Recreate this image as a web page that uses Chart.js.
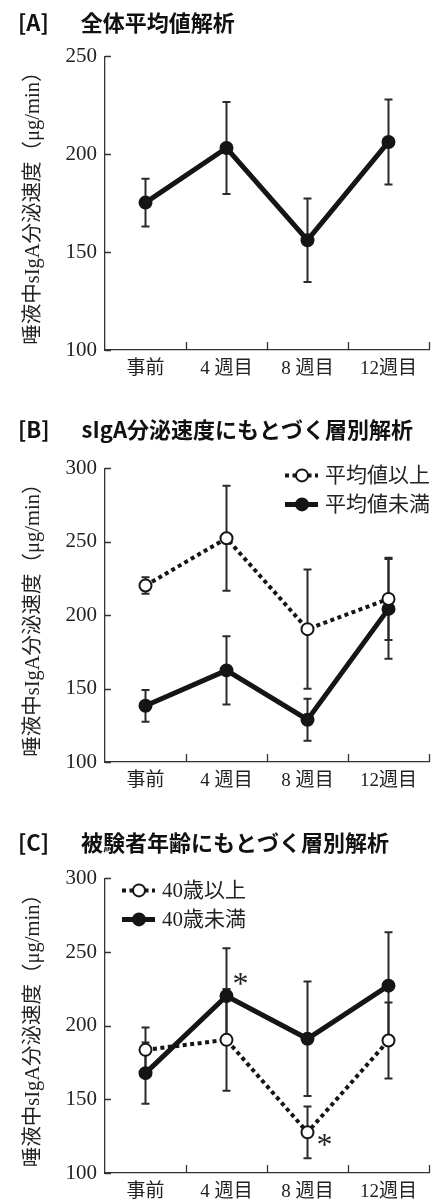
<!DOCTYPE html>
<html>
<head>
<meta charset="utf-8">
<script src="https://cdn.jsdelivr.net/npm/chart.js@4/dist/chart.umd.min.js"></script>
<style>
  html, body { margin: 0; padding: 0; background: #fff; }
  .panel { position: relative; width: 444px; }
</style>
</head>
<body>
<div class="panel" style="height:390px"><canvas id="chartA"></canvas></div>
<div class="panel" style="height:410px"><canvas id="chartB"></canvas></div>
<div class="panel" style="height:400px"><canvas id="chartC"></canvas></div>
<script>
// categories and tick labels
const categories = ['事前', '4 週目', '8 週目', '12週目'];
const yTitle = '唾液中sIgA分泌速度（μg/min）';

// [A] overall mean
const meanAll = [175.3, 203.2, 156.1, 206.3];
const sdAll = [12.2, 23.5, 21.3, 21.7];

// [B] split by sIgA secretion rate
const meanHigh = [220.2, 252.4, 190.5, 211.1];
const sdHigh = [5.6, 35.8, 40.6, 28.0];
const meanLow = [138.3, 162.4, 128.8, 204.3];
const sdLow = [10.8, 23.2, 14.3, 34.0];

// [C] split by subject age
const meanOver40 = [183.6, 190.4, 127.6, 190.0];
const sdOver40 = [15.2, 34.6, 17.6, 25.8];
const meanUnder40 = [167.8, 220.2, 191.1, 227.2];
const sdUnder40 = [20.8, 32.3, 38.9, 36.2];
// significance marks in [C]: [dataset index, category index]
const sigC = [[1, 1], [0, 2]];

const serif = '"Liberation Serif", "Noto Sans CJK JP", serif';
const ink = '#151515';

// error bars, drawn from the dataset's sd array
const errorBars = {
  id: 'errorBars',
  beforeDatasetsDraw(chart) {
    const { ctx, scales: { x, y } } = chart;
    ctx.save();
    ctx.strokeStyle = '#2a2a2a';
    ctx.lineWidth = 2;
    chart.data.datasets.forEach(ds => {
      ds.sd.forEach((e, i) => {
        const px = x.getPixelForValue(i);
        const t = y.getPixelForValue(ds.data[i] + e);
        const b = y.getPixelForValue(ds.data[i] - e);
        ctx.beginPath();
        ctx.moveTo(px, t); ctx.lineTo(px, b);
        ctx.moveTo(px - 4, t); ctx.lineTo(px + 4, t);
        ctx.moveTo(px - 4, b); ctx.lineTo(px + 4, b);
        ctx.stroke();
      });
    });
    ctx.restore();
  }
};

// inward tick marks on both axes
const innerTicks = {
  id: 'innerTicks',
  afterDraw(chart) {
    const { ctx, chartArea: a, scales: { x, y } } = chart;
    ctx.save();
    ctx.strokeStyle = '#333';
    ctx.lineWidth = 1.3;
    ctx.beginPath();
    y.ticks.forEach(t => {
      const py = Math.round(y.getPixelForValue(t.value)) + 0.5;
      ctx.moveTo(a.left, py); ctx.lineTo(a.left + 6, py);
    });
    const n = x.ticks.length;
    for (let i = 1; i <= n; i++) {
      const px = i < n ? (x.getPixelForValue(i - 1) + x.getPixelForValue(i)) / 2 : a.right;
      ctx.moveTo(Math.round(px) + 0.5, a.bottom); ctx.lineTo(Math.round(px) + 0.5, a.bottom - 8);
    }
    ctx.stroke();
    ctx.restore();
  }
};

// legend with line + marker samples
const lineLegend = {
  id: 'lineLegend',
  afterDraw(chart, args, opts) {
    if (!opts.show) return;
    const { ctx, chartArea: a } = chart;
    ctx.save();
    chart.data.datasets.forEach((ds, i) => {
      const x0 = a.left + opts.dx;
      const yy = a.top + opts.dy + i * 29;
      ctx.strokeStyle = ink;
      ctx.lineWidth = ds.borderWidth;
      ctx.setLineDash(ds.borderDash || []);
      ctx.beginPath();
      ctx.moveTo(x0, yy); ctx.lineTo(x0 + 33, yy);
      ctx.stroke();
      ctx.setLineDash([]);
      ctx.beginPath();
      ctx.arc(x0 + 17, yy, 6, 0, Math.PI * 2);
      ctx.fillStyle = ds.pointBackgroundColor;
      ctx.fill();
      ctx.lineWidth = 2;
      ctx.stroke();
      ctx.fillStyle = '#222';
      ctx.font = '21px ' + serif;
      ctx.textBaseline = 'middle';
      ctx.fillText(ds.label, x0 + 40, yy + 1);
    });
    ctx.restore();
  }
};

// significance asterisks
const asterisks = {
  id: 'asterisks',
  afterDraw(chart, args, opts) {
    if (!opts.marks) return;
    const { ctx, scales: { x, y } } = chart;
    ctx.save();
    ctx.fillStyle = '#222';
    ctx.font = '32px ' + serif;
    ctx.textAlign = 'center';
    ctx.textBaseline = 'middle';
    opts.marks.forEach(([d, i], k) => {
      const px = x.getPixelForValue(i) + opts.offsets[k][0];
      const py = y.getPixelForValue(chart.data.datasets[d].data[i]) + opts.offsets[k][1];
      ctx.fillText('*', px, py);
    });
    ctx.restore();
  }
};

function solidSeries(label, data, sd) {
  return {
    label, data, sd,
    borderColor: ink, borderWidth: 5,
    pointRadius: 6, pointBorderWidth: 2,
    pointBackgroundColor: ink, pointBorderColor: ink,
    tension: 0, order: 1
  };
}
function dottedSeries(label, data, sd) {
  return {
    label, data, sd,
    borderColor: ink, borderWidth: 4, borderDash: [4, 3.5],
    pointRadius: 6, pointBorderWidth: 2,
    pointBackgroundColor: '#fff', pointBorderColor: ink,
    tension: 0, order: 0
  };
}

function makeChart(id, title, pad, xHeight, yMax, datasets, extra) {
  return new Chart(document.getElementById(id), {
    type: 'line',
    data: { labels: categories, datasets },
    options: {
      responsive: true,
      maintainAspectRatio: false,
      animation: false,
      layout: { padding: { left: 18, right: 15, top: 0, bottom: 0 } },
      plugins: {
        legend: { display: false },
        tooltip: { enabled: false },
        title: {
          display: true, text: title, align: 'start', color: '#111',
          font: { family: '"Noto Sans CJK JP", sans-serif', size: 22, weight: 'bold', lineHeight: 1.2 },
          padding: pad
        },
        lineLegend: extra.legend || { show: false },
        asterisks: extra.asterisks || {}
      },
      scales: {
        x: {
          type: 'category', offset: true,
          grid: { display: true, drawOnChartArea: false, drawTicks: false },
          border: { display: true, color: '#333', width: 1.3 },
          ticks: { color: '#222', padding: 8, font: { family: serif, size: 19 } },
          afterFit(s) { s.height = xHeight; }
        },
        y: {
          min: 100, max: yMax,
          grid: { display: true, drawOnChartArea: false, drawTicks: false },
          border: { display: true, color: '#333', width: 1.3 },
          ticks: { stepSize: 50, color: '#222', padding: 8, font: { family: serif, size: 21 } },
          title: {
            display: true, text: yTitle, color: '#222',
            font: { family: serif, size: 20.5, lineHeight: 1.2 },
            padding: { top: 3, bottom: 0 }
          },
          afterFit(s) { s.width = 87; }
        }
      }
    },
    plugins: [errorBars, innerTicks, lineLegend, asterisks]
  });
}

makeChart('chartA', '[A]　  全体平均値解析', { top: 9, bottom: 21 }, 40, 250,
  [solidSeries('全体', meanAll, sdAll)], {});

makeChart('chartB', '[B]　  sIgA分泌速度にもとづく層別解析', { top: 26, bottom: 26 }, 38, 300,
  [dottedSeries('平均値以上', meanHigh, sdHigh), solidSeries('平均値未満', meanLow, sdLow)],
  { legend: { show: true, dx: 180, dy: 7 } });

makeChart('chartC', '[C]　  被験者年齢にもとづく層別解析', { top: 29, bottom: 23 }, 27, 300,
  [dottedSeries('40歳以上', meanOver40, sdOver40), solidSeries('40歳未満', meanUnder40, sdUnder40)],
  { legend: { show: true, dx: 17, dy: 12 },
    asterisks: { marks: sigC, offsets: [[14, -10], [17, 14]] } });
</script>
</body>
</html>
